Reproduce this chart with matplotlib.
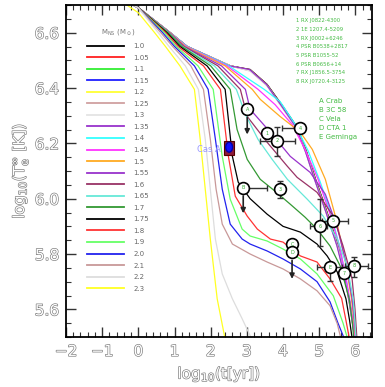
import matplotlib
matplotlib.use('Agg')
import matplotlib.pyplot as plt
import matplotlib.patheffects as pe
from matplotlib.patches import Rectangle, Ellipse
from matplotlib.ticker import MultipleLocator

# ---------------- data ----------------
masses = ['1.0', '1.05', '1.1', '1.15', '1.2', '1.25', '1.3', '1.35', '1.4', '1.45', '1.5',
          '1.55', '1.6', '1.65', '1.7', '1.75', '1.8', '1.9', '2.0', '2.1', '2.2', '2.3']
colors = ['black', '#ff2020', '#33ee33', '#2020ff', '#ffff33', '#d0a0a0', '#e4e4e4', '#9933cc',
          '#33ffff', '#ff33ff', '#ffaa22', '#9933cc', '#993366', '#66e8d8', '#339933', 'black',
          '#ff3333', '#66ff66', '#2222ee', '#c89898', '#dddddd', '#ffff22']

t_100 = [-1.0, 0.0, 0.88, 1.35, 2.54, 3.09, 3.56, 4.0, 4.39, 4.65, 4.9, 5.22, 5.52, 5.72, 5.85, 5.93, 5.99, 6.05]
T_100 = [6.76, 6.69, 6.6, 6.55, 6.48, 6.467, 6.413, 6.333, 6.258, 6.17, 6.07, 5.95, 5.83, 5.72, 5.62, 5.55, 5.505, 5.45]
t_105 = [-1.0, 0.0, 0.88, 1.35, 2.54, 3.09, 3.56, 4.0, 4.39, 4.65, 4.9, 5.22, 5.52, 5.72, 5.85, 5.93, 5.99, 6.05]
T_105 = [6.76, 6.69, 6.6, 6.55, 6.48, 6.466, 6.412, 6.331, 6.256, 6.168, 6.068, 5.948, 5.828, 5.718, 5.618, 5.548, 5.503, 5.45]
t_110 = [-1.0, 0.0, 0.88, 1.35, 2.54, 3.09, 3.56, 4.0, 4.39, 4.65, 4.9, 5.22, 5.52, 5.72, 5.85, 5.93, 5.99, 6.05]
T_110 = [6.76, 6.69, 6.6, 6.55, 6.48, 6.465, 6.411, 6.33, 6.255, 6.166, 6.066, 5.946, 5.826, 5.716, 5.616, 5.546, 5.501, 5.45]
t_115 = [-1.0, 0.0, 0.88, 1.35, 2.54, 3.09, 3.56, 4.0, 4.39, 4.65, 4.9, 5.22, 5.52, 5.72, 5.85, 5.93, 5.99, 6.05]
T_115 = [6.76, 6.69, 6.6, 6.55, 6.48, 6.464, 6.41, 6.329, 6.253, 6.164, 6.064, 5.944, 5.824, 5.714, 5.614, 5.544, 5.50, 5.45]
t_120 = [-1.0, 0.0, 0.88, 1.35, 2.54, 3.09, 3.56, 4.0, 4.39, 4.65, 4.9, 5.22, 5.52, 5.72, 5.85, 5.93, 5.99, 6.05]
T_120 = [6.76, 6.69, 6.6, 6.55, 6.48, 6.463, 6.409, 6.327, 6.251, 6.162, 6.062, 5.942, 5.822, 5.712, 5.612, 5.542, 5.498, 5.45]
t_125 = [-1.0, 0.0, 0.88, 1.35, 2.54, 3.09, 3.56, 4.0, 4.39, 4.65, 4.9, 5.22, 5.52, 5.72, 5.85, 5.93, 5.99, 6.05]
T_125 = [6.76, 6.69, 6.6, 6.55, 6.48, 6.462, 6.408, 6.326, 6.25, 6.16, 6.06, 5.94, 5.82, 5.71, 5.61, 5.54, 5.496, 5.45]
t_130 = [-1.0, 0.0, 0.88, 1.35, 2.54, 3.09, 3.56, 4.0, 4.39, 4.65, 4.9, 5.22, 5.52, 5.72, 5.85, 5.93, 5.99, 6.05]
T_130 = [6.76, 6.69, 6.6, 6.55, 6.48, 6.461, 6.407, 6.324, 6.248, 6.158, 6.058, 5.938, 5.818, 5.708, 5.608, 5.538, 5.494, 5.45]
t_135 = [-1.0, 0.0, 0.88, 1.35, 2.52, 3.07, 3.54, 3.97, 4.36, 4.62, 4.87, 5.19, 5.49, 5.70, 5.84, 5.92, 5.98, 6.04]
T_135 = [6.76, 6.69, 6.6, 6.55, 6.48, 6.467, 6.413, 6.333, 6.258, 6.17, 6.07, 5.95, 5.83, 5.72, 5.62, 5.55, 5.505, 5.45]
t_140 = [-1.0, 0.0, 0.88, 1.34, 2.5, 3.48, 3.92, 4.34, 4.70, 5.03, 5.33, 5.58, 5.76, 5.88, 5.96, 6.03]
T_140 = [6.76, 6.69, 6.6, 6.55, 6.48, 6.395, 6.351, 6.268, 6.171, 6.06, 5.944, 5.818, 5.70, 5.60, 5.53, 5.46]
t_145 = [-1.0, 0.0, 0.87, 1.32, 2.45, 3.31, 3.78, 4.25, 4.61, 4.97, 5.30, 5.58, 5.77, 5.90, 5.97, 6.03]
T_145 = [6.76, 6.69, 6.6, 6.55, 6.48, 6.395, 6.34, 6.268, 6.178, 6.07, 5.944, 5.818, 5.692, 5.59, 5.52, 5.46]
t_150 = [-1.0, 0.0, 0.87, 1.30, 2.40, 3.15, 3.37, 3.92, 4.48, 4.81, 5.17, 5.47, 5.72, 5.89, 5.97, 6.03]
T_150 = [6.76, 6.69, 6.6, 6.55, 6.48, 6.395, 6.359, 6.297, 6.24, 6.178, 6.07, 5.926, 5.775, 5.64, 5.55, 5.47]
t_155 = [-1.0, 0.0, 0.86, 1.27, 2.30, 2.96, 3.09, 3.65, 4.20, 4.75, 5.17, 5.50, 5.75, 5.91, 5.98, 6.04]
T_155 = [6.76, 6.69, 6.6, 6.55, 6.48, 6.395, 6.323, 6.24, 6.153, 6.095, 6.016, 5.897, 5.764, 5.638, 5.55, 5.46]
t_160 = [-1.0, 0.0, 0.85, 1.25, 2.20, 2.82, 3.01, 3.56, 4.12, 4.39, 4.94, 5.39, 5.66, 5.91, 5.99, 6.04]
T_160 = [6.76, 6.69, 6.6, 6.55, 6.48, 6.395, 6.297, 6.204, 6.117, 6.077, 6.023, 5.937, 5.829, 5.71, 5.60, 5.50]
t_165 = [-1.0, 0.0, 0.84, 1.22, 2.10, 2.71, 2.96, 3.31, 3.70, 4.12, 4.67, 5.11, 5.50, 5.77, 5.94, 5.99, 6.03]
T_165 = [6.76, 6.69, 6.6, 6.55, 6.48, 6.395, 6.305, 6.214, 6.142, 6.07, 5.998, 5.937, 5.854, 5.757, 5.638, 5.55, 5.47]
t_170 = [-1.0, 0.0, 0.82, 1.20, 2.00, 2.54, 2.73, 3.01, 3.37, 3.78, 4.20, 4.61, 4.94, 5.30, 5.58, 5.83, 5.92, 5.97]
T_170 = [6.76, 6.69, 6.6, 6.55, 6.48, 6.395, 6.25, 6.142, 6.07, 6.027, 5.98, 5.933, 5.89, 5.829, 5.757, 5.638, 5.55, 5.47]
t_175 = [-1.0, 0.0, 0.79, 1.15, 1.90, 2.40, 2.60, 2.76, 3.09, 3.56, 4.0, 4.48, 4.94, 5.22, 5.50, 5.74, 5.84, 5.90, 5.94]
T_175 = [6.76, 6.69, 6.6, 6.55, 6.48, 6.395, 6.153, 6.06, 6.0, 5.944, 5.90, 5.879, 5.836, 5.793, 5.735, 5.638, 5.56, 5.505, 5.46]
t_180 = [-1.0, 0.0, 0.76, 1.10, 1.80, 2.27, 2.49, 2.68, 3.01, 3.29, 3.65, 4.0, 4.48, 4.94, 5.30, 5.62, 5.74, 5.82, 5.87]
T_180 = [6.76, 6.69, 6.6, 6.55, 6.48, 6.395, 6.153, 6.009, 5.937, 5.89, 5.854, 5.843, 5.793, 5.771, 5.71, 5.64, 5.56, 5.505, 5.46]
t_190 = [-1.0, 0.0, 0.72, 1.05, 1.65, 2.07, 2.32, 2.54, 2.87, 3.09, 3.56, 4.0, 4.48, 4.94, 5.39, 5.66, 5.76, 5.82]
T_190 = [6.76, 6.69, 6.6, 6.55, 6.48, 6.395, 6.153, 5.998, 5.89, 5.865, 5.847, 5.818, 5.782, 5.728, 5.649, 5.55, 5.505, 5.46]
t_200 = [-1.0, 0.0, 0.67, 1.0, 1.55, 1.93, 2.13, 2.32, 2.54, 2.87, 3.09, 3.56, 4.0, 4.48, 4.94, 5.30, 5.52, 5.66, 5.72]
T_200 = [6.76, 6.69, 6.6, 6.55, 6.48, 6.395, 6.215, 6.034, 5.908, 5.854, 5.836, 5.811, 5.782, 5.746, 5.70, 5.627, 5.55, 5.505, 5.46]
t_210 = [-1.0, 0.0, 0.62, 0.95, 1.45, 1.80, 1.99, 2.15, 2.32, 2.60, 3.09, 3.56, 4.0, 4.48, 4.94, 5.30, 5.50, 5.58, 5.63]
T_210 = [6.76, 6.69, 6.6, 6.55, 6.48, 6.395, 6.215, 6.034, 5.908, 5.836, 5.80, 5.771, 5.746, 5.71, 5.667, 5.613, 5.548, 5.505, 5.46]
t_220 = [-1.0, 0.0, 0.55, 0.85, 1.30, 1.66, 1.85, 1.99, 2.13, 2.32, 2.60, 2.87, 3.09, 3.2]
T_220 = [6.76, 6.69, 6.6, 6.55, 6.48, 6.395, 6.215, 6.034, 5.854, 5.728, 5.638, 5.566, 5.505, 5.47]
t_230 = [-1.0, 0.0, 0.45, 0.75, 1.15, 1.55, 1.71, 1.85, 1.99, 2.18, 2.38, 2.45]
T_230 = [6.76, 6.672, 6.6, 6.55, 6.48, 6.395, 6.215, 6.034, 5.854, 5.638, 5.505, 5.46]

curves_t = [t_100, t_105, t_110, t_115, t_120, t_125, t_130, t_135, t_140, t_145, t_150,
            t_155, t_160, t_165, t_170, t_175, t_180, t_190, t_200, t_210, t_220, t_230]
curves_T = [T_100, T_105, T_110, T_115, T_120, T_125, T_130, T_135, T_140, T_145, T_150,
            T_155, T_160, T_165, T_170, T_175, T_180, T_190, T_200, T_210, T_220, T_230]

# observed thermal emitters (1-8)
obs_labels = ['1', '2', '3', '4', '5', '6', '7', '8']
obs_t = [3.56, 3.84, 3.92, 4.48, 5.39, 5.03, 5.69, 5.97]
obs_T = [6.236, 6.21, 6.034, 6.254, 5.92, 5.90, 5.73, 5.757]
obs_xlo = [0.0, 0.48, 0.0, 0.52, 0.31, 0.28, 0.10, 0.25]
obs_xhi = [0.0, 0.49, 0.0, 0.0, 0.41, 0.19, 0.10, 0.38]
obs_ylo = [0.0, 0.057, 0.03, 0.0, 0.0, 0.07, 0.0, 0.04]
obs_yhi = [0.0, 0.05, 0.03, 0.0, 0.0, 0.10, 0.0, 0.033]
obs_names = ['1 RX J0822-4300', '2 1E 1207.4-5209', '3 RX J0002+6246', '4 PSR B0538+2817',
             '5 PSR B1055-52', '6 PSR B0656+14', '7 RX J1856.5-3754', '8 RX J0720.4-3125']

# letter objects (A-E)
lim_labels = ['A', 'B', 'C', 'D', 'E']
lim_t = [3.01, 2.90, 4.25, 4.25, 5.30]
lim_T = [6.323, 6.04, 5.836, 5.807, 5.753]
lim_xlo = [0.0, 0.0, 0.0, 0.0, 0.36]
lim_xhi = [0.0, 0.66, 0.0, 0.0, 0.34]
lim_ylo = [0.0, 0.0, 0.015, 0.0, 0.05]
lim_yhi = [0.0, 0.0, 0.015, 0.0, 0.0]
lim_arrow_to = [6.222, 5.937, None, 5.70, None]
lim_names = ['A Crab', 'B 3C 58', 'C Vela', 'D CTA 1', 'E Geminga']

casA_t = 2.51
casA_T = 6.186

# ---------------- figure ----------------
fig = plt.figure(figsize=(3.85, 3.87), dpi=100)
ax = fig.add_axes([66/385, 1-337/387, 306/385, 332/387])

lines = []
for m, c, tt, TT in zip(masses, colors, curves_t, curves_T):
    ln, = ax.plot(tt, TT, color=c, lw=0.9, label=m, zorder=2)
    lines.append(ln)

ax.set_xlim(-2, 6.46)
ax.set_ylim(5.5, 6.7)

hollow = [pe.withStroke(linewidth=0.9, foreground='#777777')]

ax.xaxis.set_major_locator(MultipleLocator(1))
ax.xaxis.set_minor_locator(MultipleLocator(0.2))
ax.yaxis.set_major_locator(MultipleLocator(0.2))
ax.yaxis.set_minor_locator(MultipleLocator(0.05))
ax.tick_params(which='both', direction='in', top=True, right=True, color='#333333')
ax.tick_params(which='major', length=7, width=1.0, labelsize=11, pad=5)
ax.tick_params(which='minor', length=3.5, width=0.8)
for lab in ax.get_xticklabels() + ax.get_yticklabels():
    lab.set_color('white')
    lab.set_path_effects(hollow)
for s in ax.spines.values():
    s.set_linewidth(1.3)

ax.set_xlabel(r'log$_{10}$(t[yr])', fontsize=11, color='white', path_effects=hollow, labelpad=4)
ax.set_ylabel(r'log$_{10}$(T$_{\rm e}^{\infty}$ [K])', fontsize=11, color='white', path_effects=hollow, labelpad=3)

leg = ax.legend(handles=lines, loc='upper left', bbox_to_anchor=(0.058, 0.943), frameon=False,
                fontsize=5, title=r'M$_{\rm NS}$ (M$_\odot$)', title_fontsize=5,
                handlelength=5.3, handletextpad=1.3, labelspacing=0.8, borderpad=0)
for t in leg.get_texts():
    t.set_color('#666666')
leg.get_title().set_color('#777777')
for h in leg.legend_handles:
    h.set_linewidth(1.3)

# observed points
for lab, x, y, xl, xh, yl, yh in zip(obs_labels, obs_t, obs_T, obs_xlo, obs_xhi, obs_ylo, obs_yhi):
    if xl or xh or yl or yh:
        ax.errorbar([x], [y], xerr=[[xl], [xh]], yerr=[[yl], [yh]], fmt='none', ecolor='#333333',
                    elinewidth=1.0, capsize=2.5, capthick=1.0, zorder=4)
    ax.plot([x], [y], 'o', ms=8.5, mfc='white', mec='black', mew=1.2, zorder=5)
    ax.text(x, y, lab, fontsize=3.5, color='#33aa33', ha='center', va='center', zorder=6)

for lab, x, y, xl, xh, yl, yh, ya in zip(lim_labels, lim_t, lim_T, lim_xlo, lim_xhi, lim_ylo, lim_yhi, lim_arrow_to):
    if xl or xh or yl or yh:
        ax.errorbar([x], [y], xerr=[[xl], [xh]], yerr=[[yl], [yh]], fmt='none', ecolor='#333333',
                    elinewidth=1.0, capsize=2.5, capthick=1.0, zorder=4)
    if ya is not None:
        ax.annotate('', xy=(x, ya), xytext=(x, y - 0.02),
                    arrowprops=dict(arrowstyle='-|>', color='#222222', lw=1.2, mutation_scale=7),
                    zorder=4)
    ax.plot([x], [y], 'o', ms=8.5, mfc='white', mec='black', mew=1.2, zorder=5)
    ax.text(x, y, lab, fontsize=3.5, color='#33aa33', ha='center', va='center', zorder=6)

# Cas A
ax.add_patch(Rectangle((2.36, 6.158), 0.29, 0.05, facecolor='#8b1a3a', edgecolor='#550000', lw=0.8, zorder=5))
ax.add_patch(Ellipse((casA_t, casA_T), 0.19, 0.036, facecolor='#1010ff', edgecolor='#0000aa', zorder=6))
ax.text(2.27, 6.178, 'Cas A', fontsize=6, color='#9999ff', ha='right', va='center', zorder=6)

# name lists
for i, nm in enumerate(obs_names):
    ax.text(0.752, 0.952 - i * 0.026, nm, transform=ax.transAxes, fontsize=3.8,
            color='#44bb44', ha='left', va='center')
for i, nm in enumerate(lim_names):
    ax.text(0.827, 0.711 - i * 0.027, nm, transform=ax.transAxes, fontsize=5,
            color='#44bb44', ha='left', va='center')

fig.savefig('out.png', dpi=100)
